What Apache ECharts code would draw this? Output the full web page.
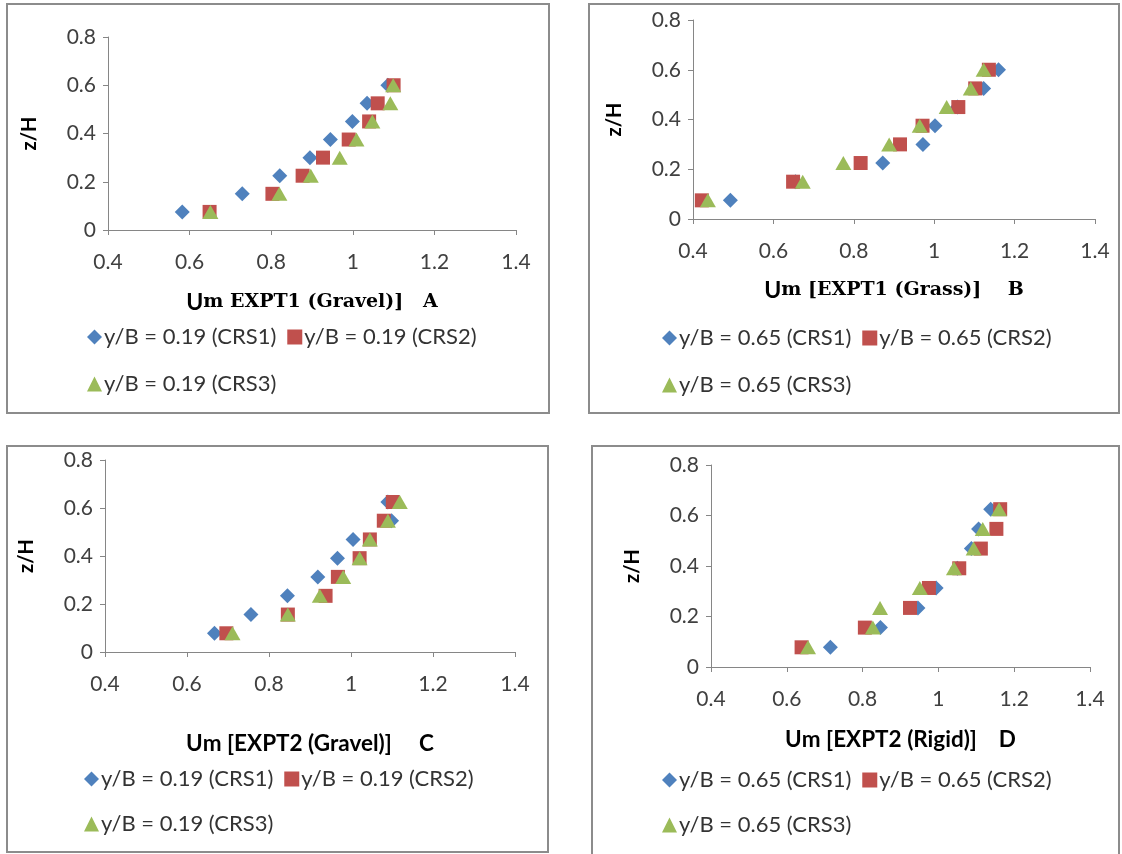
<!DOCTYPE html>
<html>
<head>
<meta charset="utf-8">
<script src="https://cdn.jsdelivr.net/npm/echarts@6/dist/echarts.min.js"></script>
<style>
html,body{margin:0;padding:0;background:#fff;}
#chart{width:1122px;height:854px;}
</style>
</head>
<body>
<div id="chart"></div>
<script>
// ---- data ----
const xTickLabels = ['0.4', '0.6', '0.8', '1', '1.2', '1.4'];
const yTickLabels = ['0', '0.2', '0.4', '0.6', '0.8'];

// Panel A: EXPT1 Gravel, y/B = 0.19
const zA = [0.075, 0.15, 0.225, 0.3, 0.375, 0.45, 0.525, 0.6];
const umA_CRS1 = [0.582, 0.729, 0.821, 0.895, 0.945, 0.999, 1.035, 1.086];
const umA_CRS2 = [0.649, 0.803, 0.877, 0.927, 0.990, 1.040, 1.061, 1.100];
const umA_CRS3 = [0.651, 0.820, 0.897, 0.968, 1.009, 1.048, 1.092, 1.099];

// Panel B: EXPT1 Grass, y/B = 0.65
const zB = [0.075, 0.15, 0.225, 0.3, 0.375, 0.45, 0.525, 0.6];
const umB_CRS1 = [0.493, 0.655, 0.872, 0.972, 1.002, 1.058, 1.123, 1.160];
const umB_CRS2 = [0.422, 0.649, 0.817, 0.915, 0.971, 1.060, 1.102, 1.136];
const umB_CRS3 = [0.437, 0.673, 0.774, 0.888, 0.964, 1.031, 1.091, 1.123];

// Panel C: EXPT2 Gravel, y/B = 0.19
const zC = [0.078, 0.156, 0.234, 0.313, 0.391, 0.469, 0.547, 0.625];
const umC_CRS1 = [0.667, 0.756, 0.845, 0.919, 0.967, 1.005, 1.099, 1.090];
const umC_CRS2 = [0.696, 0.846, 0.938, 0.968, 1.021, 1.046, 1.080, 1.102];
const umC_CRS3 = [0.711, 0.846, 0.924, 0.981, 1.021, 1.046, 1.090, 1.119];

// Panel D: EXPT2 Rigid, y/B = 0.65
const zD = [0.078, 0.156, 0.234, 0.313, 0.391, 0.469, 0.547, 0.625];
const umD_CRS1 = [0.715, 0.847, 0.946, 0.994, 1.050, 1.087, 1.106, 1.138];
const umD_CRS2 = [0.639, 0.806, 0.925, 0.975, 1.055, 1.112, 1.153, 1.163];
const umD_CRS3 = [0.656, 0.827, 0.846, 0.951, 1.041, 1.093, 1.117, 1.160];

const namesA = ['y/B = 0.19 (CRS1)', 'y/B = 0.19 (CRS2)', 'y/B = 0.19 (CRS3)'];
const namesB = ['y/B = 0.65 (CRS1)', 'y/B = 0.65 (CRS2)', 'y/B = 0.65 (CRS3)'];

const panelTitles = [
  {u: 'U', rest: 'm EXPT1 (Gravel)]   A', serif: true},
  {u: 'U', rest: 'm [EXPT1 (Grass)]    B', serif: true},
  {u: 'U', rest: 'm [EXPT2 (Gravel)]     C', serif: false},
  {u: 'U', rest: 'm [EXPT2 (Rigid)]    D', serif: false}
];
// ---- end data ----

const COLORS = ['#4F81BD', '#C0504D', '#9BBB59'];
const SYMBOLS = ['diamond', 'rect', 'triangle'];
const SIZES = [15, 14, [16, 14]];
const FONT = 'Lato, "Open Sans", sans-serif';
const XMIN = 0.4, XINT = 0.2, YMIN = 0, YINT = 0.2;

const grids = [
  {left: 108, top: 37, width: 408, height: 193},
  {left: 693, top: 20, width: 402, height: 199},
  {left: 105, top: 460, width: 410, height: 192},
  {left: 711, top: 465, width: 379, height: 202}
];
const nameGaps = [61, 60, 80, 61];

const panels = [
  {z: zA, xs: [umA_CRS1, umA_CRS2, umA_CRS3], names: namesA},
  {z: zB, xs: [umB_CRS1, umB_CRS2, umB_CRS3], names: namesB},
  {z: zC, xs: [umC_CRS1, umC_CRS2, umC_CRS3], names: namesA},
  {z: zD, xs: [umD_CRS1, umD_CRS2, umD_CRS3], names: namesB}
];

const axisLine = {show: true, lineStyle: {color: '#868686', width: 1}};
const axisTick = {show: true, inside: false, length: 5, lineStyle: {color: '#868686'}};

const xAxes = [], yAxes = [], series = [];
panels.forEach((p, i) => {
  const t = panelTitles[i];
  xAxes.push({
    type: 'value', gridIndex: i, min: 0.4, max: 1.4, interval: XINT,
    axisLine, axisTick, splitLine: {show: false},
    axisLabel: {
      color: '#404040', fontSize: 21, fontFamily: FONT, margin: 22,
      formatter: v => xTickLabels[Math.round((v - XMIN) / XINT)]
    },
    name: '{u|' + t.u + '}{r|' + t.rest + '}',
    nameLocation: 'middle', nameGap: nameGaps[i],
    nameTextStyle: {
      rich: t.serif ? {
        u: {fontFamily: FONT, fontWeight: 'bold', fontSize: 23, color: '#000'},
        r: {fontFamily: '"DejaVu Serif", serif', fontWeight: 'bold', fontSize: 19, color: '#000'}
      } : {
        u: {fontFamily: FONT, fontWeight: 'bold', fontSize: 22.5, color: '#000'},
        r: {fontFamily: FONT, fontWeight: 'bold', fontSize: 22.5, color: '#000'}
      }
    }
  });
  yAxes.push({
    type: 'value', gridIndex: i, min: 0, max: 0.8, interval: YINT,
    axisLine, axisTick, splitLine: {show: false},
    axisLabel: {
      color: '#404040', fontSize: 21, fontFamily: FONT, margin: 12,
      formatter: v => yTickLabels[Math.round((v - YMIN) / YINT)]
    },
    name: 'z/H', nameLocation: 'middle', nameRotate: 90, nameGap: 68,
    nameTextStyle: {fontFamily: FONT, fontWeight: 'bold', fontSize: 20, color: '#000'}
  });
  p.xs.forEach((xs, k) => {
    series.push({
      type: 'scatter', name: p.names[k], xAxisIndex: i, yAxisIndex: i,
      symbol: SYMBOLS[k], symbolSize: SIZES[k],
      itemStyle: {color: COLORS[k], opacity: 1},
      emphasis: {disabled: true},
      data: xs.map((x, j) => [x, p.z[j]])
    });
  });
});

const legendPos = [
  {left: 82, top1: 321, top2: 368},
  {left: 657, top1: 322, top2: 369},
  {left: 79, top1: 763, top2: 808},
  {left: 657, top1: 764, top2: 809}
];
const legends = [];
panels.forEach((p, i) => {
  const lp = legendPos[i];
  const common = {
    orient: 'horizontal', left: lp.left, itemGap: 11, itemWidth: 15, itemHeight: 15,
    textStyle: {fontFamily: FONT, fontSize: 22, color: '#333', padding: [0, 0, 0, -3]},
    selectedMode: false
  };
  legends.push(Object.assign({}, common, {
    top: lp.top1,
    data: [
      {name: p.names[0], icon: 'diamond', itemStyle: {color: COLORS[0]}},
      {name: p.names[1], icon: 'rect', itemStyle: {color: COLORS[1]}}
    ]
  }));
  legends.push(Object.assign({}, common, {
    top: lp.top2,
    data: [{name: p.names[2], icon: 'triangle', itemStyle: {color: COLORS[2]}}]
  }));
});

const frames = [
  {x: 7, y: 4, w: 542, h: 409},
  {x: 589, y: 4, w: 530, h: 409},
  {x: 7, y: 446, w: 541, h: 406},
  {x: 592, y: 446, w: 527, h: 412}
];

const chart = echarts.init(document.getElementById('chart'), null, {renderer: 'canvas'});
chart.setOption({
  backgroundColor: '#fff',
  animation: false,
  grid: grids.map(g => Object.assign({containLabel: false}, g)),
  xAxis: xAxes,
  yAxis: yAxes,
  legend: legends,
  series: series,
  graphic: frames.map(f => ({
    type: 'rect', silent: true, z: -1,
    shape: {x: f.x, y: f.y, width: f.w, height: f.h},
    style: {fill: 'none', stroke: '#8c8c8c', lineWidth: 2}
  }))
});
</script>
</body>
</html>
